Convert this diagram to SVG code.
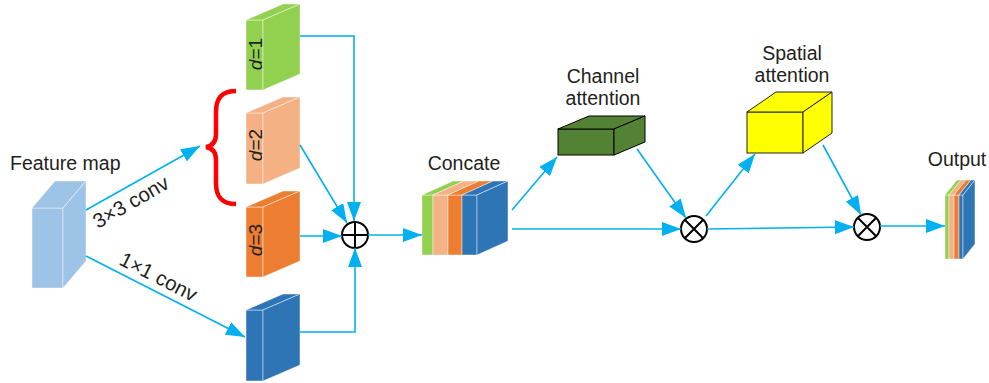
<svg xmlns="http://www.w3.org/2000/svg" width="989" height="383" viewBox="0 0 989 383">
<style>
.t{font-family:"Liberation Sans",Arial,sans-serif;font-size:19.5px;fill:#231f20}
.r{font-size:20.5px}
.c{stroke:#00b0f0;stroke-width:1.6;fill:none}
.e{stroke:#ffffff;stroke-opacity:0.45;stroke-width:1}
.g{fill:#92d050}.lo{fill:#f4b183}.do{fill:#ed7d31}.b{fill:#2e75b6}.fm{fill:#9dc3e6}
.op{fill:none;stroke:#000;stroke-width:2}
</style>
<defs>
<marker id="ah" markerUnits="userSpaceOnUse" markerWidth="19" markerHeight="14" refX="19" refY="7" orient="auto"><path d="M0,0 L19,7 L0,14 z" fill="#00b0f0"/></marker>
</defs>
<rect width="989" height="383" fill="#fff"/>

<g id="feature-map">
<rect class="fm e" x="32" y="208" width="31" height="80"/>
<polygon class="fm e" points="32,208 55,181 86,181 63,208"/>
<polygon class="fm e" points="63,208 86,181 86,261 63,288"/>
<text class="t" x="10" y="170">Feature map</text>
</g>

<g id="d1">
<rect class="g e" x="246" y="20" width="17" height="70"/>
<polygon class="g e" points="246,20 283,4 300,4 263,20"/>
<polygon class="g e" points="263,20 300,4 300,74 263,90"/>
<text class="t" transform="translate(262,54) rotate(-90)" text-anchor="middle" style="font-size:19px"><tspan font-style="italic">d</tspan>=1</text>
</g>
<g id="d2">
<rect class="lo e" x="246" y="113" width="17" height="71"/>
<polygon class="lo e" points="246,113 283,97 300,97 263,113"/>
<polygon class="lo e" points="263,113 300,97 300,168 263,184"/>
<text class="t" transform="translate(262,145) rotate(-90)" text-anchor="middle" style="font-size:19px"><tspan font-style="italic">d</tspan>=2</text>
</g>
<g id="d3">
<rect class="do e" x="246" y="207" width="17" height="70"/>
<polygon class="do e" points="246,207 283,191 300,191 263,207"/>
<polygon class="do e" points="263,207 300,191 300,261 263,277"/>
<text class="t" transform="translate(262,240) rotate(-90)" text-anchor="middle" style="font-size:19px"><tspan font-style="italic">d</tspan>=3</text>
</g>
<g id="conv1x1">
<rect class="b e" x="246" y="310" width="17" height="71"/>
<polygon class="b e" points="246,310 283,294 300,294 263,310"/>
<polygon class="b e" points="263,310 300,294 300,365 263,381"/>
</g>

<g id="brace">
<path d="M236,91 C222,91 216,98 216,112 L216,134 C216,142 212,146 206,147 C212,148 216,152 216,160 L216,183 C216,197 222,204 236,204" fill="none" stroke="#ff0000" stroke-width="4.5"/>
</g>

<g id="sum">
<circle class="op" cx="355" cy="235" r="13"/>
<path d="M342,235 H368 M355,222 V248" stroke="#000" stroke-width="2"/>
</g>

<g id="concate">
<rect class="g e" x="422" y="195" width="11" height="60"/>
<polygon class="g e" points="422,195 453,181 464,181 433,195"/>
<rect class="lo e" x="433" y="195" width="15" height="60"/>
<polygon class="lo e" points="433,195 464,181 479,181 448,195"/>
<rect class="do e" x="448" y="195" width="14" height="60"/>
<polygon class="do e" points="448,195 479,181 493,181 462,195"/>
<rect class="b e" x="462" y="195" width="15" height="60"/>
<polygon class="b e" points="462,195 493,181 508,181 477,195"/>
<polygon class="b e" points="477,195 508,181 508,241 477,255"/>
<text class="t" x="464" y="170" text-anchor="middle">Concate</text>
</g>

<g id="channel-attention">
<rect x="558" y="129" width="56" height="26" fill="#548235" stroke="#000" stroke-width="1"/>
<polygon points="558,129 589,116 645,116 614,129" fill="#548235" stroke="#000" stroke-width="1"/>
<polygon points="614,129 645,116 645,142 614,155" fill="#548235" stroke="#000" stroke-width="1"/>
<text class="t" x="603" y="83" text-anchor="middle">Channel</text>
<text class="t" x="603" y="105" text-anchor="middle">attention</text>
</g>

<g id="mul1">
<circle class="op" cx="694" cy="229" r="13"/>
<path d="M684.8,219.8 L703.2,238.2 M703.2,219.8 L684.8,238.2" stroke="#000" stroke-width="2"/>
</g>

<g id="spatial-attention">
<rect x="747" y="112" width="56" height="41" fill="#ffff00" stroke="#222" stroke-width="1"/>
<polygon points="747,112 776,92 832,92 803,112" fill="#ffff00" stroke="#222" stroke-width="1"/>
<polygon points="803,112 832,92 832,133 803,153" fill="#ffff00" stroke="#222" stroke-width="1"/>
<text class="t" x="792" y="60" text-anchor="middle">Spatial</text>
<text class="t" x="792" y="82" text-anchor="middle">attention</text>
</g>

<g id="mul2">
<circle class="op" cx="867" cy="227" r="13"/>
<path d="M857.8,217.8 L876.2,236.2 M876.2,217.8 L857.8,236.2" stroke="#000" stroke-width="2"/>
</g>

<g id="output">
<rect class="g e" x="945" y="195" width="4" height="64"/>
<polygon class="g e" points="945,195 957,180 961,180 949,195"/>
<rect class="lo e" x="949" y="195" width="5" height="64"/>
<polygon class="lo e" points="949,195 961,180 966,180 954,195"/>
<rect class="do e" x="954" y="195" width="5" height="64"/>
<polygon class="do e" points="954,195 966,180 971,180 959,195"/>
<rect class="b e" x="959" y="195" width="4" height="64"/>
<polygon class="b e" points="959,195 971,180 975,180 963,195"/>
<polygon class="b e" points="963,195 975,180 975,244 963,259"/>
<text class="t" x="957" y="166" text-anchor="middle">Output</text>
</g>

<g id="labels">
<text class="t r" transform="translate(98,229) rotate(-30)">3×3 conv</text>
<text class="t r" transform="translate(118,264) rotate(27)">1×1 conv</text>
</g>

<g id="connectors">
<path class="c" d="M86,210 L200,146" marker-end="url(#ah)"/>
<path class="c" d="M86,256 L245,337" marker-end="url(#ah)"/>
<path class="c" d="M300,36 H354 V221" marker-end="url(#ah)"/>
<path class="c" d="M300,145 L347,223" marker-end="url(#ah)"/>
<path class="c" d="M300,236 H342" marker-end="url(#ah)"/>
<path class="c" d="M300,332 H355 V248" marker-end="url(#ah)"/>
<path class="c" d="M368,235 H422" marker-end="url(#ah)"/>
<path class="c" d="M512,210 L557,157" marker-end="url(#ah)"/>
<path class="c" d="M512,229 L681,229" marker-end="url(#ah)"/>
<path class="c" d="M637,149 L686,218" marker-end="url(#ah)"/>
<path class="c" d="M706,216 L755,154" marker-end="url(#ah)"/>
<path class="c" d="M707,229 L854,227" marker-end="url(#ah)"/>
<path class="c" d="M823,145 L861,215" marker-end="url(#ah)"/>
<path class="c" d="M880,226 H945" marker-end="url(#ah)"/>
</g>
</svg>
